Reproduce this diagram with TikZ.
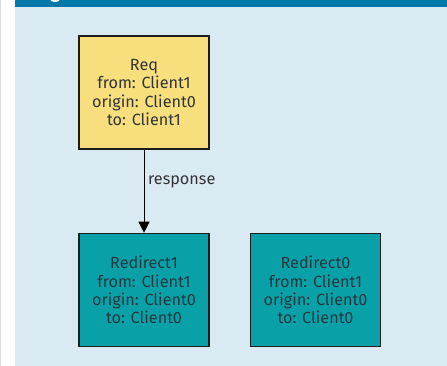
\documentclass[tikz,border=0pt]{standalone}
\usepackage{fontspec}
\setmainfont{Fira Sans}
\usetikzlibrary{arrows.meta}
\definecolor{pagebg}{HTML}{DAEAF3}
\definecolor{bandblue}{HTML}{0079A8}
\definecolor{reqyellow}{HTML}{F7DF7E}
\definecolor{redirteal}{HTML}{0AA0A8}
\definecolor{edgedark}{HTML}{1C1C1C}
\definecolor{inktext}{HTML}{333333}
\definecolor{inkteal}{HTML}{1E3A40}
\tikzset{
  msgbox/.style={draw=edgedark, line width=1.6pt, minimum width=130pt, minimum height=113pt,
    align=center, inner sep=0pt, font=\fontsize{16.2}{18.2}\selectfont},
  reqbox/.style={msgbox, fill=reqyellow, text=inktext},
  redirbox/.style={msgbox, fill=redirteal, text=inkteal},
  flow/.style={draw=black, line width=0.9pt, -{Triangle[width=11pt,length=11pt]}},
  flowlabel/.style={font=\fontsize{16.2}{18}\selectfont, text=inktext, anchor=west, inner sep=0pt}
}
\begin{document}
\begin{tikzpicture}[x=1pt, y=-1pt]
  % page frame
  \useasboundingbox (0,0) rectangle (447,366);
  \fill[white] (0,0) rectangle (447,366);
  \fill[gray!30] (0,0) rectangle (1.3,366);
  \fill[pagebg] (15,0) rectangle (447,366);
  \fill[bandblue] (15,0) rectangle (447,7);
  \fill[white] (55,0) ellipse (4.5pt and 2pt);

  % messages
  \node[reqbox] (req) at (144,92.5) {Req\\from: Client1\\origin: Client0\\to: Client1};
  \node[redirbox] (redir1) at (144,290) {Redirect1\\from: Client1\\origin: Client0\\to: Client0};
  \node[redirbox] (redir0) at (315.5,290) {Redirect0\\from: Client1\\origin: Client0\\to: Client0};

  % reply edge
  \draw[flow] (req.south) -- (redir1.north);
  \node[flowlabel] (resp) at (148,182) {response};
\end{tikzpicture}
\end{document}
